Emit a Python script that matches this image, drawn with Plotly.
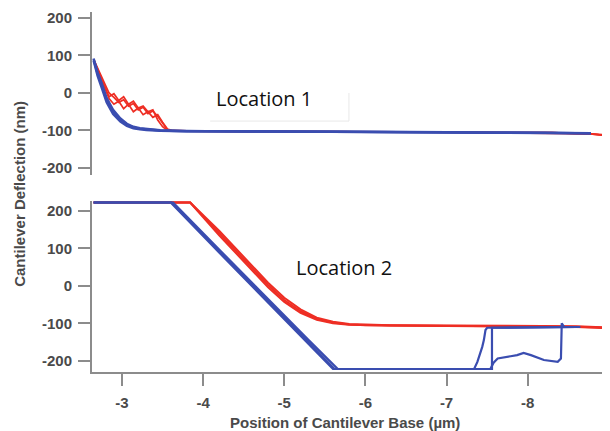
import plotly.graph_objects as go

# ---------------- data ----------------
# Top panel (Location 1)
top_blue_x = [-2.65, -2.70, -2.75, -2.81, -2.89, -2.98, -3.06, -3.14, -3.22, -3.30, -3.47, -3.8, -4.5, -5.5, -6.5, -7.5, -8.2, -8.78]
top_blue_y1 = [90, 50, 20, -19, -50, -72, -85, -92, -95, -97, -100, -102, -103, -103, -104, -105, -106, -107]
top_blue_y2 = [86, 45, 14, -25, -56, -76, -88, -94, -97, -99, -101, -102, -102, -104, -104, -106, -106, -108]
top_blue_y3 = [92, 55, 26, -13, -45, -68, -82, -90, -94, -96, -99, -101, -103, -103, -105, -105, -107, -107]

top_red_x = [-2.65, -2.72, -2.78, -2.84, -2.90, -2.96, -3.02, -3.08, -3.14, -3.20, -3.26, -3.32, -3.38, -3.44, -3.50, -3.56, -3.62, -3.8, -4.5, -5.5, -6.5, -7.5, -8.3, -8.8, -8.95]
top_red_y1 = [90, 55, 25, 0, -12, -25, -18, -35, -28, -45, -38, -55, -48, -62, -80, -98, -101, -102, -102, -103, -104, -105, -106, -110, -113]
top_red_y2 = [88, 50, 18, -10, -2, -20, -10, -30, -22, -40, -35, -50, -45, -72, -90, -100, -101, -102, -103, -103, -104, -106, -107, -109, -112]
top_red_y3 = [90, 52, 15, -15, -30, -22, -42, -30, -50, -40, -58, -50, -65, -58, -78, -96, -100, -101, -102, -103, -105, -105, -106, -110, -113]

# Bottom panel (Location 2)
bot_red_x = [-2.65, -3.84, -4.2, -4.58, -4.8, -5.0, -5.2, -5.4, -5.6, -5.8, -6.0, -6.3, -7.0, -8.0, -8.6, -9.0]
bot_red_y1 = [222, 222, 140, 51, 2, -38, -68, -88, -98, -103, -105, -106, -107, -108, -109, -112]
bot_red_y2 = [222, 222, 146, 58, 8, -32, -63, -85, -96, -102, -104, -105, -106, -108, -108, -111]
bot_red_y3 = [222, 222, 134, 45, -4, -43, -72, -91, -100, -104, -105, -106, -107, -108, -110, -113]

bot_blue_x1 = [-2.65, -3.61, -4.2, -4.8, -5.3, -5.62, -7.34, -7.36, -7.38, -7.44, -7.46, -7.48, -7.50, -8.65]
bot_blue_y1 = [222, 222, 92, -40, -150, -222, -222, -212, -203, -163, -145, -118, -112, -110]
bot_blue_x2 = [-2.65, -3.63, -4.2, -4.8, -5.3, -5.66, -7.56, -7.56, -8.6]
bot_blue_y2 = [222, 222, 96, -36, -145, -222, -222, -112, -110]
bot_blue_x3 = [-2.65, -3.60, -4.2, -4.8, -5.3, -5.60, -7.54, -7.58, -7.63, -7.71, -7.79, -7.87, -7.95, -8.04, -8.12, -8.20, -8.37, -8.41, -8.42, -8.45, -8.6]
bot_blue_y3 = [222, 222, 88, -45, -158, -222, -222, -205, -194, -190, -188, -185, -179, -185, -192, -198, -203, -194, -100, -110, -110]

y_ticks = [-200, -100, 0, 100, 200]
y_ticktext = ["-200", "-100", "0", "100", "200"]
x_ticks = [-3, -4, -5, -6, -7, -8]
x_ticktext = ["-3", "-4", "-5", "-6", "-7", "-8"]

RED = "#ee2e24"
BLUE = "#3a4db0"
AX = "#8c8c8c"
TXT = "#4a4a4a"
FONT = "Arial, Liberation Sans"

fig = go.Figure()

def add(x, y, color, xa, ya, w=2.2):
    fig.add_trace(go.Scatter(x=x, y=y, mode="lines", line=dict(color=color, width=w),
                             xaxis=xa, yaxis=ya, showlegend=False, hoverinfo="skip"))

# top
for yy in (top_red_y1, top_red_y2, top_red_y3):
    add(top_red_x, yy, RED, "x2", "y2", 1.7)
for yy in (top_blue_y1, top_blue_y2, top_blue_y3):
    add(top_blue_x, yy, BLUE, "x2", "y2", 2.4)
# bottom
for yy in (bot_red_y1, bot_red_y2, bot_red_y3):
    add(bot_red_x, yy, RED, "x", "y", 2.0)
add(bot_blue_x1, bot_blue_y1, BLUE, "x", "y", 2.2)
add(bot_blue_x2, bot_blue_y2, BLUE, "x", "y", 2.2)
add(bot_blue_x3, bot_blue_y3, BLUE, "x", "y", 2.2)

tickfont = dict(family=FONT, size=15, color=TXT, weight="bold")
xr = [-2.63, -8.99]

yax_common = dict(showline=True, linecolor=AX, linewidth=2, ticks="outside", ticklen=12,
                  tickwidth=2, tickcolor=AX, tickvals=y_ticks, ticktext=y_ticktext,
                  tickfont=tickfont, showgrid=False, zeroline=False, ticklabelstandoff=3)

# page body has an 8px margin: figure is sized so plot area lands where the reference has it
fig.update_layout(
    width=602, height=423,
    margin=dict(l=84, r=2, t=4, b=59),
    paper_bgcolor="white", plot_bgcolor="white",
    xaxis=dict(domain=[0, 1], anchor="y", range=xr, showline=True, linecolor=AX, linewidth=2,
               ticks="outside", ticklen=12, tickwidth=2, tickcolor=AX,
               tickvals=x_ticks, ticktext=x_ticktext, tickfont=tickfont,
               showgrid=False, zeroline=False, ticklabelstandoff=4),
    yaxis=dict(domain=[0, 0.475], anchor="x", range=[-230, 226], **yax_common),
    xaxis2=dict(domain=[0, 1], anchor="y2", range=xr, visible=False, matches="x"),
    yaxis2=dict(domain=[0.547, 1], anchor="x2", range=[-219, 216], **yax_common),
    annotations=[
        dict(text="Cantilever Deflection (nm)", xref="paper", yref="paper", x=-0.1395, y=0.495,
             xanchor="center", yanchor="middle", textangle=-90, showarrow=False,
             font=dict(family=FONT, size=15, color=TXT, weight="bold")),
        dict(text="Position of Cantilever Base (µm)", xref="paper", yref="paper", x=0.49, y=-0.139,
             xanchor="center", yanchor="middle", showarrow=False,
             font=dict(family=FONT, size=15, color=TXT, weight="bold")),
        dict(text="Location 1", xref="paper", yref="paper", x=0.333, y=0.761, showarrow=False,
             xanchor="center", yanchor="middle", font=dict(family="Open Sans", size=20, color="#111")),
        dict(text="Location 2", xref="paper", yref="paper", x=0.488, y=0.289, showarrow=False,
             xanchor="center", yanchor="middle", font=dict(family="Open Sans", size=20, color="#111")),
    ],
    shapes=[
        dict(type="line", xref="paper", yref="paper", x0=0.229, x1=0.498, y0=0.697, y1=0.697,
             line=dict(color="#e8e8e8", width=1)),
        dict(type="line", xref="paper", yref="paper", x0=0.498, x1=0.498, y0=0.697, y1=0.775,
             line=dict(color="#e8e8e8", width=1)),
    ],
)

fig.write_html("out.html")
